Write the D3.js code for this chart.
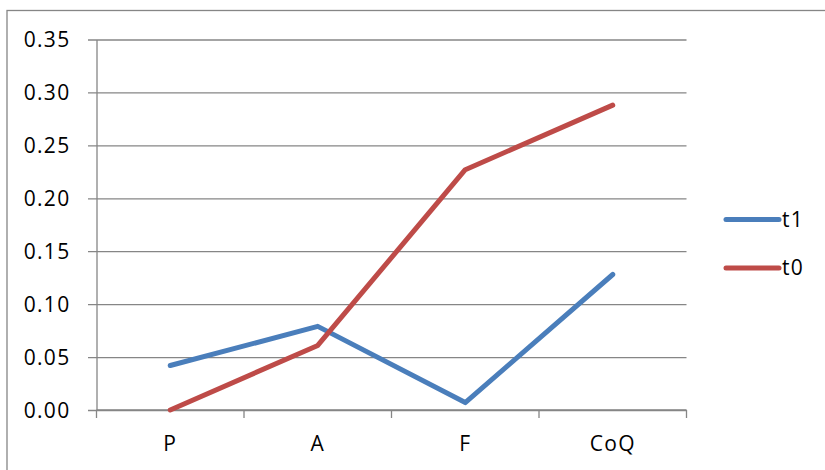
<!DOCTYPE html>
<html>
<head>
<meta charset="utf-8">
<script src="https://cdn.jsdelivr.net/npm/d3@7"></script>
<style>
  html, body { margin: 0; padding: 0; background: #fff; }
  svg text { font-family: "Open Sans", "Liberation Sans", sans-serif; fill: #000; }
</style>
</head>
<body>
<svg id="chart" width="825" height="470"></svg>
<script>
// Categories along the x axis
const categories = ["P", "A", "F", "CoQ"];
// Series values
const t1Values = [0.042, 0.079, 0.007, 0.128];
const t0Values = [0.000, 0.061, 0.227, 0.288];
const seriesNames = ["t1", "t0"];
const seriesColors = ["#4A7EBB", "#BE4B48"];
// Y tick values
const yTicks = [0, 0.05, 0.10, 0.15, 0.20, 0.25, 0.30, 0.35];

const svg = d3.select("#chart");
const plot = { left: 96.5, right: 686.5, top: 39.5, bottom: 410 };
const gridColor = "#868686";

// Outer chart border (right/bottom edges fall outside the view)
svg.append("rect")
  .attr("x", 7).attr("y", 10.5)
  .attr("width", 830).attr("height", 480)
  .attr("fill", "none").attr("stroke", gridColor).attr("stroke-width", 1.3);

const x = d3.scaleBand().domain(categories).range([plot.left, plot.right]);
const y = d3.scaleLinear().domain([0, 0.35]).range([plot.bottom, plot.top]);

// Horizontal gridlines with outward tick marks
const yAxis = d3.axisLeft(y)
  .tickValues(yTicks)
  .tickFormat(d3.format(".2f"))
  .tickSize(-(plot.right - plot.left))
  .tickSizeOuter(0)
  .tickPadding(0);

const gy = svg.append("g")
  .attr("transform", `translate(${plot.left},0)`)
  .call(yAxis);
gy.select(".domain").attr("stroke", gridColor).attr("stroke-width", 1.3);
gy.selectAll(".tick line").attr("stroke", gridColor).attr("stroke-width", 1.3)
  .attr("x1", -8.5);
gy.selectAll(".tick text")
  .attr("x", -26)
  .attr("font-size", 21)
  .attr("letter-spacing", 1.3)
  .attr("dy", "0.35em");

// Category axis with tick marks at band boundaries
const boundaries = categories.map(c => x(c)).concat([plot.right]);
const gx = svg.append("g");
gx.append("line")
  .attr("x1", plot.left).attr("x2", plot.right)
  .attr("y1", plot.bottom).attr("y2", plot.bottom)
  .attr("stroke", gridColor).attr("stroke-width", 1.3);
gx.selectAll("line.tk").data(boundaries).enter().append("line")
  .attr("class", "tk")
  .attr("x1", d => d).attr("x2", d => d)
  .attr("y1", plot.bottom).attr("y2", plot.bottom + 8)
  .attr("stroke", gridColor).attr("stroke-width", 1.3);
gx.selectAll("text").data(categories).enter().append("text")
  .attr("x", d => x(d) + x.bandwidth() / 2)
  .attr("y", 444)
  .attr("dy", "0.35em")
  .attr("text-anchor", "middle")
  .attr("font-size", 21)
  .attr("letter-spacing", 1.3)
  .text(d => d);

// Series lines
const series = [
  { name: seriesNames[0], values: t1Values, color: seriesColors[0] },
  { name: seriesNames[1], values: t0Values, color: seriesColors[1] }
];
const line = d3.line()
  .x((d, i) => x(categories[i]) + x.bandwidth() / 2)
  .y(d => y(d));

svg.append("g").selectAll("path").data(series).enter().append("path")
  .attr("d", d => line(d.values))
  .attr("fill", "none")
  .attr("stroke", d => d.color)
  .attr("stroke-width", 5)
  .attr("stroke-linejoin", "round")
  .attr("stroke-linecap", "round");

// Legend
const legend = svg.append("g").selectAll("g").data(series).enter().append("g")
  .attr("transform", (d, i) => `translate(0,${219.5 + i * 48.5})`);
legend.append("line")
  .attr("x1", 726).attr("x2", 779)
  .attr("stroke", d => d.color)
  .attr("stroke-width", 5)
  .attr("stroke-linecap", "round");
legend.append("text")
  .attr("x", 782)
  .attr("dy", "0.35em")
  .attr("font-size", 21)
  .attr("letter-spacing", 1.3)
  .text(d => d.name);
</script>
</body>
</html>
